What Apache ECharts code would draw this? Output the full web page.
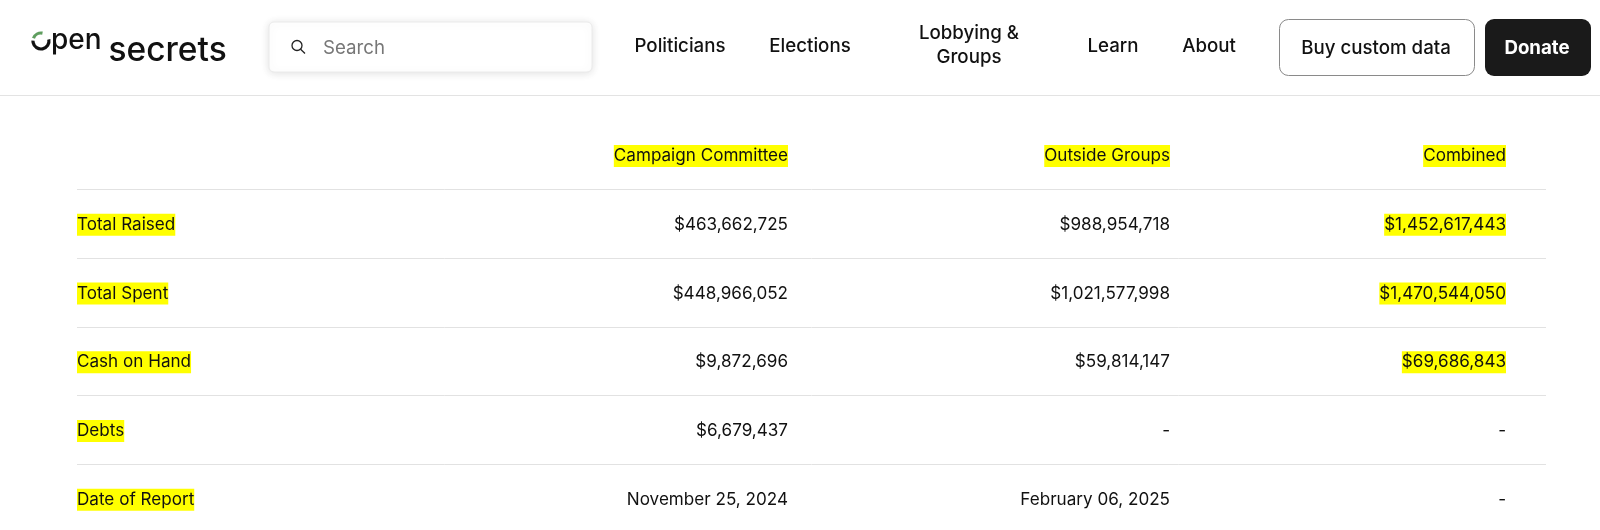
<!DOCTYPE html>
<html>
<head>
<meta charset="utf-8">
<title>Campaign totals</title>
<script src="https://cdn.jsdelivr.net/npm/echarts@6/dist/echarts.min.js"></script>
<style>
  html, body { margin: 0; padding: 0; background: #fff; }
  #chart { width: 1600px; height: 530px; }
</style>
</head>
<body>
<div id="chart"></div>
<script>
// table rows, first one is the header row
const rows = ['Header', 'Total Raised', 'Total Spent', 'Cash on Hand', 'Debts', 'Date of Report'];
const rowLabels = ['', 'Total Raised', 'Total Spent', 'Cash on Hand', 'Debts', 'Date of Report'];
const campaignCommittee = ['Campaign Committee', '$463,662,725', '$448,966,052', '$9,872,696', '$6,679,437', 'November 25, 2024'];
const outsideGroups = ['Outside Groups', '$988,954,718', '$1,021,577,998', '$59,814,147', '-', 'February 06, 2025'];
const combined = ['Combined', '$1,452,617,443', '$1,470,544,050', '$69,686,843', '-', '-'];

// which cells carry the yellow marker
const markLabels = [false, true, true, true, true, true];
const markCampaign = [true, false, false, false, false, false];
const markOutside = [true, false, false, false, false, false];
const markCombined = [true, true, true, true, false, false];

const navItems = ['Politicians', 'Elections', 'Lobbying &\nGroups', 'Learn', 'About'];

const FONT = 'Inter';
const YELLOW = '#ffff00';

// x anchor of each column, inside the grid
const columnX = [0, 711, 1093, 1429];

function columnSeries(name, texts, marks, x, side) {
  return {
    name: name,
    type: 'scatter',
    silent: true,
    symbolSize: 0,
    itemStyle: { opacity: 1 },
    data: texts.map(function (t, i) {
      return {
        value: [x, rows[i]],
        text: t,
        label: { backgroundColor: marks[i] ? YELLOW : 'transparent' }
      };
    }),
    label: {
      show: true,
      position: side,
      distance: 0,
      offset: [0, 1],
      formatter: function (p) { return p.data.text; },
      fontFamily: FONT,
      fontSize: 17.1,
      color: '#111',
      padding: [3, 0, 2, 0]
    }
  };
}

function navText(text, x, y) {
  return {
    type: 'text', silent: true, x: x, y: y,
    style: {
      text: text, fontFamily: FONT, fontSize: 18.7, fontWeight: 500, fill: '#111',
      align: 'center', verticalAlign: 'middle', lineHeight: 24.5
    }
  };
}

const navCenters = [[680, 46], [810, 46], [969, 45.5], [1113, 46], [1209, 46]];

const header = [
  // logo
  { type: 'arc', silent: true, shape: { cx: 41, cy: 41, r: 8, startAngle: -0.2, endAngle: 3.2 }, style: { stroke: '#111', lineWidth: 3.2, fill: null } },
  { type: 'arc', silent: true, shape: { cx: 41, cy: 41, r: 8, startAngle: 3.5, endAngle: 4.9 }, style: { stroke: '#5f9e5f', lineWidth: 3.2, fill: null } },
  { type: 'text', silent: true, x: 51, y: 41, style: { text: 'pen', fontFamily: FONT, fontSize: 28, fontWeight: 500, fill: '#111', verticalAlign: 'middle' } },
  { type: 'text', silent: true, x: 108.5, y: 51, style: { text: 'secrets', fontFamily: FONT, fontSize: 33.5, fontWeight: 500, fill: '#111', verticalAlign: 'middle' } },
  // search box
  { type: 'rect', silent: true, shape: { x: 269, y: 22, width: 323, height: 50, r: 5 }, style: { fill: '#fff', stroke: '#eaeaea', lineWidth: 1, shadowBlur: 8, shadowColor: 'rgba(0,0,0,0.12)', shadowOffsetY: 1 } },
  { type: 'circle', silent: true, shape: { cx: 297, cy: 45.5, r: 5 }, style: { fill: null, stroke: '#222', lineWidth: 1.3 } },
  { type: 'line', silent: true, shape: { x1: 300.6, y1: 49.2, x2: 305, y2: 53.5 }, style: { stroke: '#222', lineWidth: 1.3 } },
  { type: 'text', silent: true, x: 323, y: 48, style: { text: 'Search', fontFamily: FONT, fontSize: 18.7, fill: '#777', verticalAlign: 'middle' } },
  // buttons
  { type: 'rect', silent: true, shape: { x: 1279.5, y: 19.5, width: 195, height: 56, r: 9 }, style: { fill: '#fff', stroke: '#8a8a8a', lineWidth: 1 } },
  { type: 'text', silent: true, x: 1376, y: 48.5, style: { text: 'Buy custom data', fontFamily: FONT, fontSize: 18.7, fontWeight: 500, fill: '#111', align: 'center', verticalAlign: 'middle' } },
  { type: 'rect', silent: true, shape: { x: 1485, y: 19, width: 106, height: 57, r: 9 }, style: { fill: '#1a1a1a' } },
  { type: 'text', silent: true, x: 1537, y: 48.5, style: { text: 'Donate', fontFamily: FONT, fontSize: 18.7, fontWeight: 700, fill: '#fff', align: 'center', verticalAlign: 'middle' } },
  // line under the nav
  { type: 'line', silent: true, shape: { x1: 0, y1: 95.5, x2: 1600, y2: 95.5 }, style: { stroke: '#e3e3e3', lineWidth: 1 } }
].concat(navItems.map(function (t, i) { return navText(t, navCenters[i][0], navCenters[i][1]); }));

const myChart = echarts.init(document.getElementById('chart'));
myChart.setOption({
  animation: false,
  backgroundColor: '#fff',
  grid: { left: 77, top: 120.5, width: 1469, height: 412.5, outerBoundsMode: 'none' },
  xAxis: { type: 'value', min: 0, max: 1469, show: false },
  yAxis: {
    type: 'category',
    data: rows,
    inverse: true,
    axisLine: { show: false },
    axisTick: { show: false },
    axisLabel: { show: false },
    splitLine: { show: true, showMinLine: false, lineStyle: { color: '#e2e2e2', width: 1 } }
  },
  graphic: header,
  series: [
    columnSeries('Row', rowLabels, markLabels, columnX[0], 'right'),
    columnSeries('Campaign Committee', campaignCommittee, markCampaign, columnX[1], 'left'),
    columnSeries('Outside Groups', outsideGroups, markOutside, columnX[2], 'left'),
    columnSeries('Combined', combined, markCombined, columnX[3], 'left')
  ]
});
</script>
</body>
</html>
